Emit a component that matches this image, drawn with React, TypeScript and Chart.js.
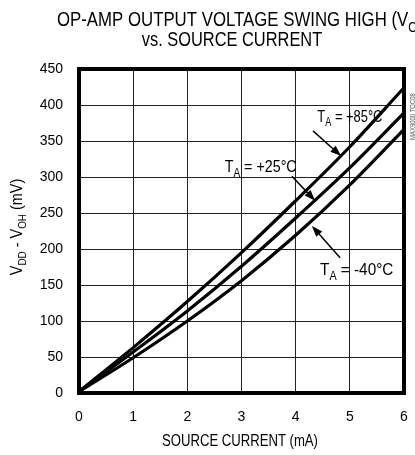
import React, { useEffect, useRef } from "react";
import { Chart, registerables } from "chart.js";

Chart.register(...registerables);

// ---- data ----
const currentMA = [0, 1, 2, 3, 4, 5, 6];
const swing85 = [2, 63, 127, 195, 267, 342, 424];
const swing25 = [2, 57, 114, 176, 243, 313, 389];
const swingM40 = [2, 49, 100, 156, 219, 289, 366];

const xMin = 0;
const xMax = 6;
const xStep = 1;
const yMin = 0;
const yMax = 450;
const yStep = 50;

const titleLine1 = "OP-AMP OUTPUT VOLTAGE SWING HIGH (V";
const titleLine1Sub = "OH";
const titleLine1End = ")";
const titleLine2 = "vs. SOURCE CURRENT";
const xTitle = "SOURCE CURRENT (mA)";
const watermark = "MAX9000 TOC08";

const seriesNames = ["TA = +85°C", "TA = +25°C", "TA = -40°C"];
const labelTemps = ["+85°C", "+25°C", "-40°C"];
// label anchor (data coords) and arrow from/to (data coords)
const labelX = [4.4, 2.69, 4.45];
const labelY = [377, 307, 164];
const arrowFromX = [4.32, 3.93, 4.82];
const arrowFromY = [364, 301, 188];
const arrowToX = [4.84, 4.36, 4.3];
const arrowToY = [329, 267, 232];
const labelSize = [17, 17, 17];
const labelSx = [0.76, 0.84, 0.9];

const SANS = "'Liberation Sans', Arial, sans-serif";

type Part = [string, boolean];

function drawRich(
  ctx: CanvasRenderingContext2D,
  parts: Part[],
  x: number,
  y: number,
  size: number,
  subSize: number,
  sx: number,
  align: "left" | "center" = "left"
) {
  let total = 0;
  for (const [t, sub] of parts) {
    ctx.font = `${sub ? subSize : size}px ${SANS}`;
    total += ctx.measureText(t).width;
  }
  ctx.save();
  ctx.translate(align === "center" ? x - (total * sx) / 2 : x, y);
  ctx.scale(sx, 1);
  ctx.textAlign = "left";
  ctx.textBaseline = "alphabetic";
  let cx = 0;
  for (const [t, sub] of parts) {
    ctx.font = `${sub ? subSize : size}px ${SANS}`;
    ctx.fillText(t, cx, sub ? size * 0.28 : 0);
    cx += ctx.measureText(t).width;
  }
  ctx.restore();
}

function drawArrow(
  ctx: CanvasRenderingContext2D,
  x1: number,
  y1: number,
  x2: number,
  y2: number
) {
  const ang = Math.atan2(y2 - y1, x2 - x1);
  const hl = 11;
  const hw = 4;
  ctx.strokeStyle = "#000";
  ctx.fillStyle = "#000";
  ctx.lineWidth = 1.5;
  ctx.beginPath();
  ctx.moveTo(x1, y1);
  ctx.lineTo(x2 - Math.cos(ang) * hl * 0.8, y2 - Math.sin(ang) * hl * 0.8);
  ctx.stroke();
  ctx.beginPath();
  ctx.moveTo(x2, y2);
  ctx.lineTo(
    x2 - Math.cos(ang) * hl + Math.sin(ang) * hw,
    y2 - Math.sin(ang) * hl - Math.cos(ang) * hw
  );
  ctx.lineTo(
    x2 - Math.cos(ang) * hl - Math.sin(ang) * hw,
    y2 - Math.sin(ang) * hl + Math.cos(ang) * hw
  );
  ctx.closePath();
  ctx.fill();
}

const decorPlugin = {
  id: "decor",
  afterDraw(chart: any) {
    const ctx: CanvasRenderingContext2D = chart.ctx;
    const { left, right, top, bottom } = chart.chartArea;
    const xs = chart.scales.x;
    const ys = chart.scales.y;
    ctx.save();

    // frame
    ctx.strokeStyle = "#000";
    ctx.lineWidth = 4;
    ctx.strokeRect(left, top, right - left, bottom - top);

    ctx.fillStyle = "#000";
    // title
    drawRich(
      ctx,
      [
        [titleLine1, false],
        [titleLine1Sub, true],
        [titleLine1End, false],
      ],
      57,
      26,
      20,
      14,
      0.84
    );
    drawRich(ctx, [[titleLine2, false]], 232, 46, 20, 14, 0.82, "center");

    // x title
    drawRich(ctx, [[xTitle, false]], 240, 446, 16, 12, 0.82, "center");

    // y title (rotated)
    ctx.save();
    ctx.translate(22, 227);
    ctx.rotate(-Math.PI / 2);
    drawRich(
      ctx,
      [
        ["V", false],
        ["DD", true],
        [" - V", false],
        ["OH", true],
        [" (mV)", false],
      ],
      0,
      0,
      16,
      11,
      0.9,
      "center"
    );
    ctx.restore();

    // watermark
    ctx.save();
    ctx.translate(415, 140);
    ctx.rotate(-Math.PI / 2);
    ctx.fillStyle = "#555";
    drawRich(ctx, [[watermark, false]], 0, 0, 7, 6, 0.85);
    ctx.restore();

    // annotations
    for (let i = 0; i < labelTemps.length; i++) {
      ctx.fillStyle = "#000";
      drawRich(
        ctx,
        [
          ["T", false],
          ["A", true],
          [" = " + labelTemps[i], false],
        ],
        xs.getPixelForValue(labelX[i]),
        ys.getPixelForValue(labelY[i]),
        labelSize[i],
        Math.round(labelSize[i] * 0.7),
        labelSx[i]
      );
      drawArrow(
        ctx,
        xs.getPixelForValue(arrowFromX[i]),
        ys.getPixelForValue(arrowFromY[i]),
        xs.getPixelForValue(arrowToX[i]),
        ys.getPixelForValue(arrowToY[i])
      );
    }
    ctx.restore();
  },
};

export default function App() {
  const ref = useRef<HTMLCanvasElement | null>(null);

  useEffect(() => {
    if (!ref.current) return;
    const mk = (vals: number[]) => currentMA.map((x, i) => ({ x, y: vals[i] }));
    const ds = (label: string, vals: number[]) => ({
      label,
      data: mk(vals),
      borderColor: "#000",
      borderWidth: 3.2,
      pointRadius: 0,
      fill: false,
      cubicInterpolationMode: "monotone" as const,
    });
    const chart = new Chart(ref.current, {
      type: "line",
      data: {
        datasets: [
          ds(seriesNames[0], swing85),
          ds(seriesNames[1], swing25),
          ds(seriesNames[2], swingM40),
        ],
      },
      options: {
        animation: false,
        responsive: false,
        layout: { padding: { top: 69, right: 11, left: 0, bottom: 0 } },
        plugins: {
          legend: { display: false },
          tooltip: { enabled: false },
          title: { display: false },
        },
        scales: {
          x: {
            type: "linear",
            min: xMin,
            max: xMax,
            grid: { color: "#222", lineWidth: 1, drawTicks: false },
            border: { display: false },
            ticks: {
              stepSize: xStep,
              padding: 16,
              color: "#000",
              font: { family: SANS, size: 14 },
            },
            afterFit: (s: any) => {
              s.height = 62;
              s.paddingLeft = 0;
              s.paddingRight = 0;
            },
          },
          y: {
            type: "linear",
            min: yMin,
            max: yMax,
            grid: { color: "#222", lineWidth: 1, drawTicks: false },
            border: { display: false },
            ticks: {
              stepSize: yStep,
              padding: 16,
              color: "#000",
              font: { family: SANS, size: 14 },
            },
            afterFit: (s: any) => {
              s.width = 79;
              s.paddingTop = 0;
              s.paddingBottom = 0;
            },
          },
        },
      },
      plugins: [decorPlugin],
    });
    return () => chart.destroy();
  }, []);

  return (
    <div
      style={{
        position: "fixed",
        left: 0,
        top: 0,
        width: 415,
        height: 455,
        background: "#fff",
      }}
    >
      <canvas ref={ref} width={415} height={455} style={{ display: "block" }} />
    </div>
  );
}
